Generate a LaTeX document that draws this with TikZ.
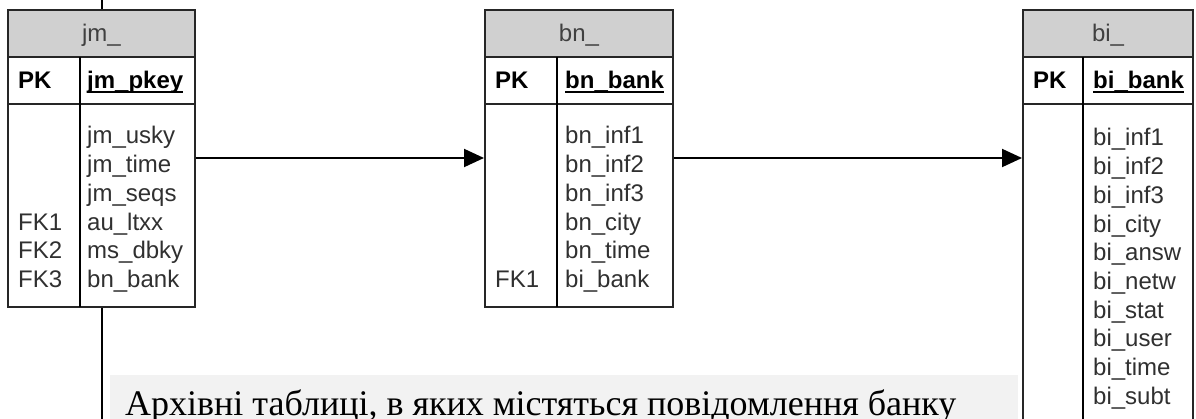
\documentclass[tikz,border=0pt]{standalone}
\usepackage{fontspec}
\setmainfont{Liberation Serif}
\newfontfamily\arialf{Liberation Sans}
\usetikzlibrary{arrows.meta}
\definecolor{hdrfill}{HTML}{D0D0D0}
\definecolor{bandfill}{HTML}{F2F2F2}
\definecolor{txt}{HTML}{303030}
\definecolor{hdrtxt}{HTML}{404040}
\tikzset{
  fld/.style={font=\arialf\fontsize{24}{28}\selectfont, text=txt, inner sep=0pt},
  pkf/.style={font=\arialf\bfseries\fontsize{24}{28}\selectfont, text=black, inner sep=0pt},
  hdrtext/.style={font=\arialf\fontsize{24}{28}\selectfont, text=hdrtxt, inner sep=0pt},
  boxpart/.style={draw=black!85, line width=2pt, rectangle, inner sep=0pt},
  conn/.style={line width=2pt, -{Triangle[length=20pt,width=18pt]}},
  plain/.style={line width=2pt},
}
\begin{document}
\begin{tikzpicture}[x=1pt,y=-1pt]
\clip (0,0) rectangle (1196,419);
\fill[white] (0,0) rectangle (1196,419);

% caption band
\node[fill=bandfill, minimum width=908pt, minimum height=60pt, anchor=north west, inner sep=0pt] (band) at (110,375) {};
\node[anchor=base west, font=\fontsize{36}{40}\selectfont, inner sep=0pt] (cap) at (125,415) {Архівні таблиці, в яких містяться повідомлення банку};

% ---------- jm_ ----------
\node[boxpart, fill=hdrfill, minimum width=187pt, minimum height=47pt] (jmhead) at (101.5,33.5) {};
\node[boxpart, minimum width=187pt, minimum height=47pt] (jmpk) at (101.5,80.5) {};
\node[boxpart, minimum width=187pt, minimum height=203pt] (jmbody) at (101.5,205.5) {};
\draw[plain] (80,57) -- (80,307);
\node[hdrtext, anchor=base] (jmt) at (101.5,42) {jm\_};
\node[pkf, anchor=base west] (jmpkl) at (18,89) {PK};
\node[pkf, anchor=base west] (jmkey) at (87,89) {jm\_pkey};
\draw[line width=1.5pt] ([yshift=-3pt]jmkey.base west) -- ([yshift=-3pt]jmkey.base east);
\foreach[count=\k from 0] \t in {jm\_usky,jm\_time,jm\_seqs,au\_ltxx,ms\_dbky,bn\_bank}
  \node[fld, anchor=base west] (jmr\k) at (87,{144+28.7*\k}) {\t};
\foreach[count=\k from 3] \t in {FK1,FK2,FK3}
  \node[fld, anchor=base west] (jmf\k) at (18,{144+28.7*\k}) {\t};

% ---------- bn_ ----------
\node[boxpart, fill=hdrfill, minimum width=188pt, minimum height=47pt] (bnhead) at (579,33.5) {};
\node[boxpart, minimum width=188pt, minimum height=47pt] (bnpk) at (579,80.5) {};
\node[boxpart, minimum width=188pt, minimum height=203pt] (bnbody) at (579,205.5) {};
\draw[plain] (557,57) -- (557,307);
\node[hdrtext, anchor=base] (bnt) at (579,42) {bn\_};
\node[pkf, anchor=base west] (bnpkl) at (495,89) {PK};
\node[pkf, anchor=base west] (bnkey) at (565,89) {bn\_bank};
\draw[line width=1.5pt] ([yshift=-3pt]bnkey.base west) -- ([yshift=-3pt]bnkey.base east);
\foreach[count=\k from 0] \t in {bn\_inf1,bn\_inf2,bn\_inf3,bn\_city,bn\_time,bi\_bank}
  \node[fld, anchor=base west] (bnr\k) at (565,{144+28.7*\k}) {\t};
\node[fld, anchor=base west] (bnf5) at (495,{144+28.7*5}) {FK1};

% ---------- bi_ ----------
\node[boxpart, fill=hdrfill, minimum width=170pt, minimum height=47pt] (bihead) at (1108,33.5) {};
\node[boxpart, minimum width=170pt, minimum height=47pt] (bipk) at (1108,80.5) {};
\node[boxpart, minimum width=170pt, minimum height=340pt] (bibody) at (1108,274) {};
\draw[plain] (1083,57) -- (1083,444);
\node[hdrtext, anchor=base] (bit) at (1108,42) {bi\_};
\node[pkf, anchor=base west] (bipkl) at (1033,89) {PK};
\node[pkf, anchor=base west] (bikey) at (1093,89) {bi\_bank};
\draw[line width=1.5pt] ([yshift=-3pt]bikey.base west) -- ([yshift=-3pt]bikey.base east);
\foreach[count=\k from 0] \t in {bi\_inf1,bi\_inf2,bi\_inf3,bi\_city,bi\_answ,bi\_netw,bi\_stat,bi\_user,bi\_time,bi\_subt}
  \node[fld, anchor=base west] (bir\k) at (1093,{146+28.7*\k}) {\t};

% ---------- connectors ----------
\coordinate (ay) at (0,158);
\coordinate (topend) at (101.5,0);
\coordinate (botend) at (101.5,425);
\draw[plain] (topend) -- (jmhead.north);
\draw[plain] (jmbody.south) -- (botend);
\draw[conn] (jmbody.east |- ay) -- (bnbody.west |- ay);
\draw[conn] (bnbody.east |- ay) -- (bibody.west |- ay);
\end{tikzpicture}
\end{document}
